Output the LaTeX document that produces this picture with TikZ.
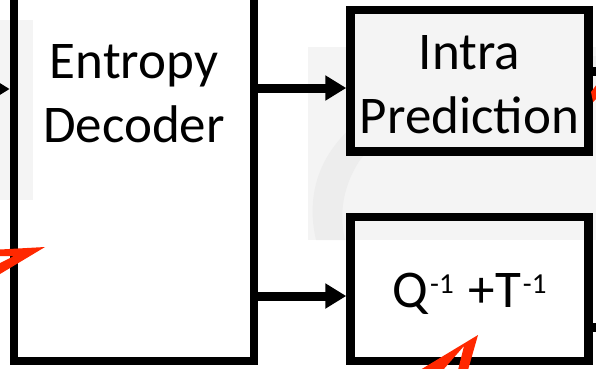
\documentclass[tikz,border=0pt]{standalone}
\usepackage{fontspec}
\setmainfont{Carlito}
\usetikzlibrary{arrows.meta}
\definecolor{wm}{HTML}{F4F4F4}
\definecolor{wmdark}{HTML}{EDEDED}
\definecolor{redarrow}{RGB}{255,40,0}
\newcommand{\supm}[1]{\kern2pt\raisebox{14pt}{\fontsize{29}{29}\selectfont #1}}
\tikzset{
  blockbox/.style={draw=black, line width=8.5pt, inner sep=0pt},
  blocktext/.style={font=\fontsize{53}{64}\selectfont, align=center, inner sep=0pt},
  flow/.style={draw=black, line width=9pt, -{Triangle[length=21pt,width=24pt]}},
  stub/.style={draw=black, line width=9pt},
  redtip/.style={fill=redarrow, draw=none}
}
\begin{document}
\begin{tikzpicture}[x=1pt,y=-1pt]
\useasboundingbox (0,0) rectangle (596,368);
\clip (0,0) rectangle (596,368);
% watermark background
\fill[wm] (0,20) rectangle (33,200);
\fill[wm] (308,47) rectangle (596,240);
\fill[wmdark] (316,240) .. controls (302,180) and (330,120) .. (420,90) .. controls (480,70) and (540,60) .. (596,56) -- (596,72) .. controls (500,85) and (400,110) .. (360,160) .. controls (340,190) and (340,220) .. (345,240) -- cycle;
% boxes
\node[blockbox, minimum width=240pt, minimum height=411pt] (ent) at (134,155.5) {};
\node[blockbox, fill=wm, minimum width=238pt, minimum height=141.5pt] (intra) at (469.5,80.75) {};
\node[blockbox, minimum width=238pt, minimum height=144pt] (q) at (469.5,289) {};
% texts
\node[blocktext, anchor=base] (enttext) at (134,142) {Entropy\\Decoder};
\node[blocktext, anchor=base] (intratext) at (469.5,133) {Intra\\Prediction};
\node[blocktext, anchor=base] (qtext) at (469.5,307) {Q\supm{-1}\kern3pt{} +T\supm{-1}};
% connectors
\coordinate (inl) at (-40,89);
\draw[flow] (inl) -- (ent.west |- inl);
\coordinate (e1) at (254,88);
\draw[flow] (ent.east |- e1) -- (intra.west |- e1);
\coordinate (e2) at (254,296);
\draw[flow] (ent.east |- e2) -- (q.west |- e2);
\coordinate (r1) at (610,71);
\draw[stub] (intra.east |- r1) -- (r1);
\coordinate (r2) at (610,327.5);
\draw[stub] (q.east |- r2) -- (r2);
% red arrows (partial)
\fill[redtip] (45,247) -- (0,249.5) -- (0,256) -- (14,256) -- (0,263) -- (0,274) -- cycle;
\fill[redtip] (478,335) -- (468,370) -- (458,370) -- (464,346) -- (443,370) -- (420,370) -- cycle;
\fill[redtip] (597,84) -- (591,92) -- (593,102) -- (597,98) -- cycle;
\end{tikzpicture}
\end{document}
